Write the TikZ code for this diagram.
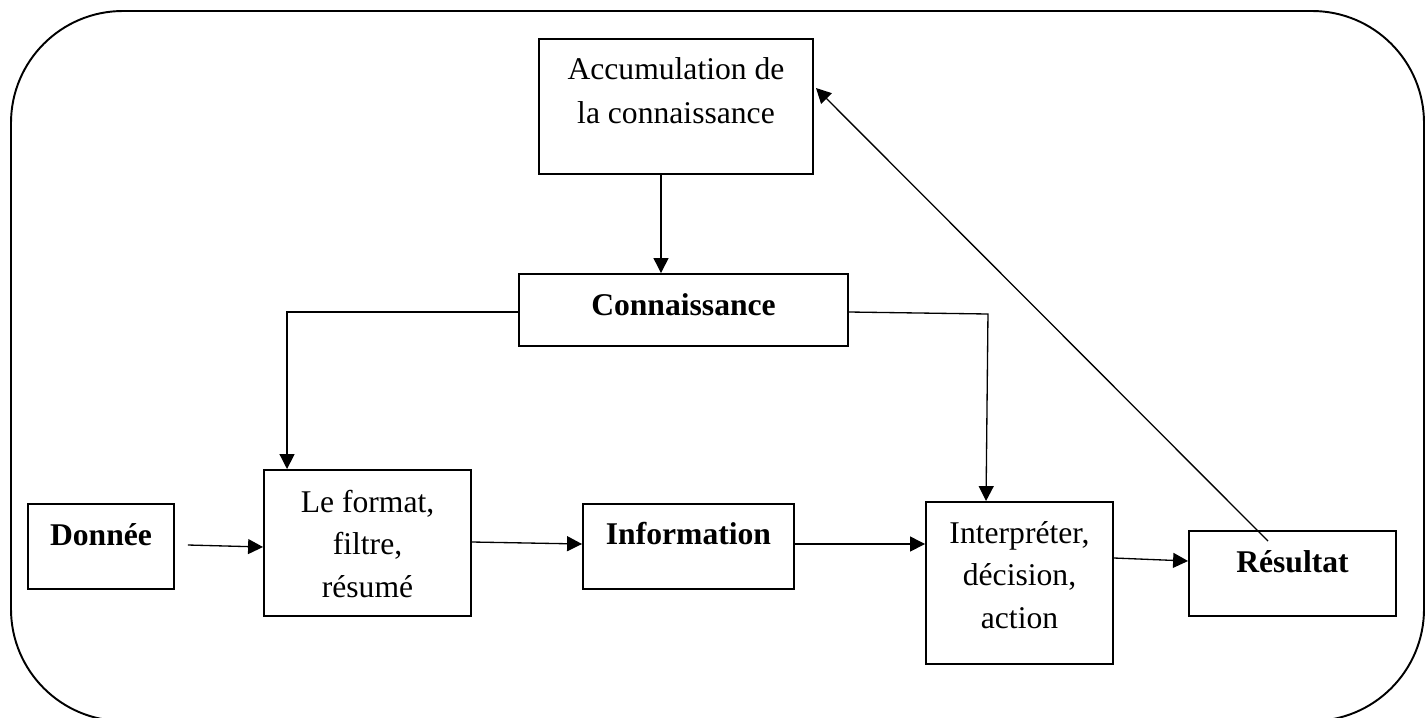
\documentclass[tikz,border=0pt]{standalone}
\usepackage{fontspec}
\setmainfont{Liberation Serif}
\usetikzlibrary{arrows.meta,calc}

\tikzset{
  box/.style={draw, line width=1.1pt, inner sep=0pt},
  sz/.style 2 args={minimum width=#1*0.02cm, minimum height=#2*0.02cm},
  txt/.style={inner sep=0pt, align=center, font=\fontsize{18}{24.1}\selectfont},
  btxt/.style={inner sep=0pt, anchor=base, font=\fontsize{18}{24.1}\selectfont\bfseries},
  arr/.style={line width=0.75pt, -{Triangle[length=8.5pt, width=8.5pt]}}
}

\begin{document}
\begin{tikzpicture}[x=0.02cm, y=-0.02cm]
\useasboundingbox (0,0) rectangle (1425,717);

% surrounding frame
\draw[line width=1.1pt, rounded corners=2.24cm] (11,11) rectangle (1424,721);

% boxes
\node[box, sz={274}{135}] (acc)    at (676,106.5) {};
\node[box, sz={329}{72}]  (conn)   at (683.5,310) {};
\node[box, sz={146}{85}]  (don)    at (101,546.5) {};
\node[box, sz={207}{146}] (fmt)    at (367.5,543) {};
\node[box, sz={211}{85}]  (info)   at (688.5,546.5) {};
\node[box, sz={187}{162}] (interp) at (1019.5,583) {};
\node[box, sz={207}{85}]  (res)    at (1292.5,573.5) {};

% box texts
\node[txt, anchor=north, font=\fontsize{18}{25}\selectfont] (accT) at (676,57) {Accumulation de\\la connaissance};
\node[btxt] (connT) at (683.5,315) {Connaissance};
\node[btxt] (donT) at (101,545) {Donnée};
\node[txt, anchor=north] (fmtT) at (367.5,490) {Le format,\\filtre,\\résumé};
\node[btxt] (infoT) at (688.5,544) {Information};
\node[txt, anchor=north] (interpT) at (1019.5,521) {Interpréter,\\décision,\\action};
\node[btxt] (resT) at (1292.5,572) {Résultat};

% connectors
\draw[arr] ($(acc.south)+(-15,0)$) -- ($(conn.north)+(-22.5,0)$);
\draw[arr] ($(conn.west)+(0,2)$) -| ($(fmt.north west)+(24,0)$);
\draw[arr] ($(conn.east)+(0,2)$) -- ($(conn.east)+(139,4)$) -- ($(interp.north west)+(61,0)$);
\draw[arr] ($(don.east)+(13,-1.5)$) -- ($(fmt.west)+(0,4)$);
\draw[arr] ($(fmt.east)+(0,-1)$) -- ($(info.west)+(0,-2.5)$);
\draw[arr] ($(info.east)+(0,-2.5)$) -- ($(interp.west)+(0,-39)$);
\draw[arr] ($(interp.east)+(0,-25)$) -- ($(res.west)+(0,-12.5)$);
\draw[arr] ($(res.north)+(-24.5,11)$) -- ($(acc.east)+(2,-18.5)$);
\end{tikzpicture}
\end{document}
